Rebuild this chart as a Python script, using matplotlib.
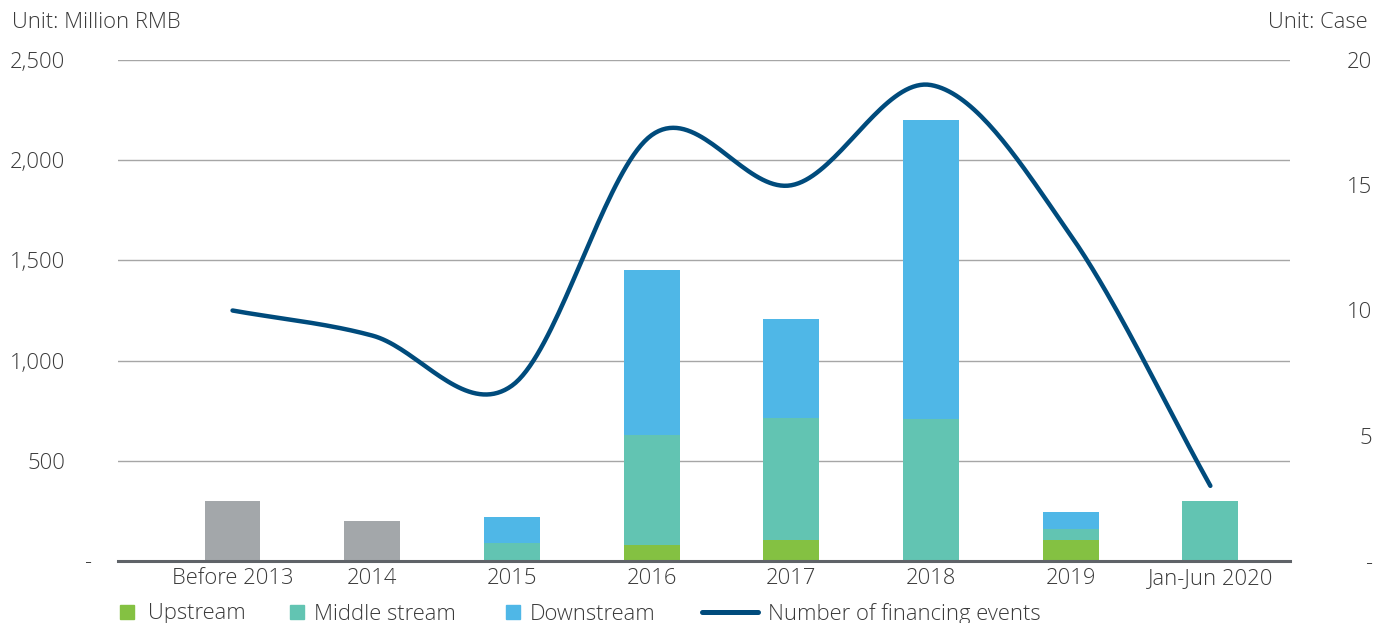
import numpy as np
import matplotlib.pyplot as plt
from matplotlib.lines import Line2D
from matplotlib.patches import Rectangle
from matplotlib.ticker import FuncFormatter

plt.rcParams["font.family"] = ["Open Sans", "DejaVu Sans"]
plt.rcParams["font.weight"] = "light"

categories = ["Before 2013", "2014", "2015", "2016", "2017", "2018", "2019", "Jan-Jun 2020"]
unclassified = [300, 200, 0, 0, 0, 0, 0, 0]
upstream = [0, 0, 0, 80, 105, 0, 105, 0]
middle = [0, 0, 90, 550, 610, 710, 55, 300]
downstream = [0, 0, 130, 820, 495, 1490, 85, 0]
events = [10, 9, 7, 17, 15, 19, 13, 3]

C_GRAY = "#a3a7aa"
C_UP = "#84c142"
C_MID = "#62c4b2"
C_DOWN = "#4fb7e7"
C_LINE = "#004b7c"
TXT = "#3a3a3a"
FS = 15.8
W, H = 1374, 623


def fx(px):
    return px / W


def fy(py):
    return 1 - py / H


def catmull_rom(xs, ys, n=40):
    xs = np.asarray(xs, float)
    ys = np.asarray(ys, float)
    px = np.concatenate([[2 * xs[0] - xs[1]], xs, [2 * xs[-1] - xs[-2]]])
    py = np.concatenate([[2 * ys[0] - ys[1]], ys, [2 * ys[-1] - ys[-2]]])
    outx, outy = [], []
    t = np.linspace(0, 1, n)
    for i in range(1, len(px) - 2):
        for p, out in ((px, outx), (py, outy)):
            p0, p1, p2, p3 = p[i - 1], p[i], p[i + 1], p[i + 2]
            out.extend(0.5 * (2 * p1 + (-p0 + p2) * t
                              + (2 * p0 - 5 * p1 + 4 * p2 - p3) * t ** 2
                              + (-p0 + 3 * p1 - 3 * p2 + p3) * t ** 3))
    return np.array(outx), np.array(outy)


fig = plt.figure(figsize=(W / 100, H / 100), dpi=100)
ax = fig.add_axes([fx(118), fy(561), fx(1290 - 118), (561 - 60) / H])
x = np.arange(len(categories))
w = 0.4

ax.bar(x, unclassified, w, color=C_GRAY, zorder=2)
ax.bar(x, upstream, w, color=C_UP, zorder=2)
b1 = np.array(upstream)
ax.bar(x, middle, w, bottom=b1, color=C_MID, zorder=2)
b2 = b1 + np.array(middle)
ax.bar(x, downstream, w, bottom=b2, color=C_DOWN, zorder=2)

ax.set_ylim(0, 2500)
ax.set_xlim(-0.82, 7.57)
ax.set_yticks([0, 500, 1000, 1500, 2000, 2500])
ax.yaxis.set_major_formatter(FuncFormatter(lambda v, p: "" if v == 0 else f"{int(v):,}"))
ax.grid(axis="y", color="#a6a6a6", linewidth=1, zorder=0)
ax.set_axisbelow(True)
for s in ["top", "right", "left"]:
    ax.spines[s].set_visible(False)
ax.spines["bottom"].set_color("#5f6368")
ax.spines["bottom"].set_linewidth(2.2)
ax.spines["bottom"].set_zorder(3)
ax.set_xticks(x)
ax.set_xticklabels(categories)
ax.tick_params(axis="x", length=0, pad=5, labelsize=FS, labelcolor=TXT)
ax.tick_params(axis="y", length=0, pad=53 * 0.72, labelsize=FS, labelcolor=TXT)
fig.text(fx(88), fy(563), "-", fontsize=FS, color=TXT, ha="center", va="center")

ax2 = ax.twinx()
ax2.set_ylim(0, 20)
ax2.set_yticks([0, 5, 10, 15, 20])
ax2.yaxis.set_major_formatter(FuncFormatter(lambda v, p: "-" if v == 0 else f"{int(v)}"))
ax2.tick_params(axis="y", length=0, pad=82 * 0.72, labelsize=FS, labelcolor=TXT)
for lbl in ax2.get_yticklabels():
    lbl.set_horizontalalignment("right")
for s in ax2.spines.values():
    s.set_visible(False)
sx, sy = catmull_rom(x, events)
ax2.plot(sx, sy, color=C_LINE, linewidth=3.2, solid_capstyle="round", zorder=4)

fig.text(fx(12), fy(22), "Unit: Million RMB", fontsize=FS, color=TXT, va="center", ha="left")
fig.text(fx(1368), fy(22), "Unit: Case", fontsize=FS, color=TXT, va="center", ha="right")

# legend drawn by hand to match the spacing of the original
leg_y = 612
for x0, tx, col, lab in [(120, 148, C_UP, "Upstream"),
                         (290, 314, C_MID, "Middle stream"),
                         (506, 530, C_DOWN, "Downstream")]:
    fig.add_artist(Rectangle((fx(x0), fy(leg_y + 7)), fx(14), 14 / H,
                             transform=fig.transFigure, color=col))
    fig.text(fx(tx), fy(leg_y + 2), lab, fontsize=FS, color=TXT, ha="left", va="center")
fig.add_artist(Line2D([fx(702), fx(758)], [fy(leg_y), fy(leg_y)], transform=fig.transFigure,
                      color=C_LINE, linewidth=3.6, solid_capstyle="round"))
fig.text(fx(768), fy(leg_y + 2), "Number of financing events", fontsize=FS, color=TXT,
         ha="left", va="center")

fig.savefig("out.png", dpi=100)
